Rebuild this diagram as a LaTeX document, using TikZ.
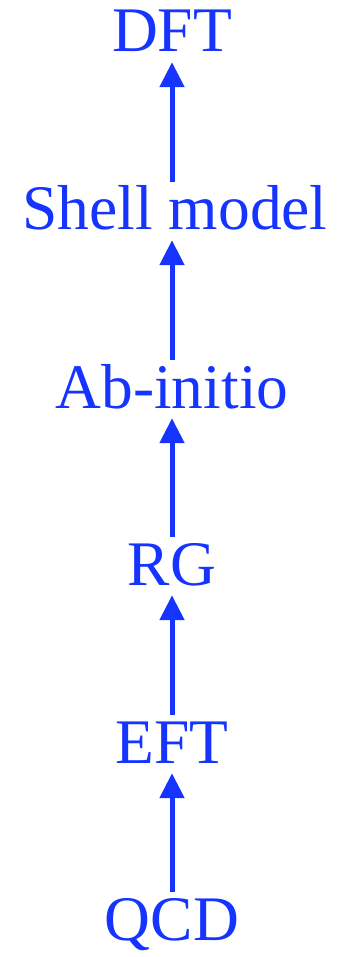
\documentclass[tikz,border=0pt]{standalone}
\usepackage{fontspec}
\setmainfont{Liberation Serif}
\usepackage{tikz}
\usetikzlibrary{arrows.meta}
\definecolor{lblue}{RGB}{22,52,255}
\tikzset{
  lvl/.style={anchor=base, inner sep=0pt, text height=42pt, text depth=0pt, text=lblue, font=\fontsize{63.5}{70}\selectfont},
  up/.style={draw=lblue, line width=5pt, -{Triangle[length=25pt,width=24pt]}, shorten <=6pt, shorten >=10pt}
}
\begin{document}
\begin{tikzpicture}
    [x=1pt,y=1pt]
    \useasboundingbox (0,0) rectangle (337,-957);
    \node[lvl] (dft) at (172,-52) {DFT};
    \node[lvl] (shell) at (175,-230) {Shell model};
    \node[lvl] (abin) at (172,-408) {Ab-initio};
    \node[lvl] (rg) at (172,-585) {RG};
    \node[lvl] (eft) at (172,-763) {EFT};
    \node[lvl] (qcd) at (172,-940) {QCD};
    \draw[up] (qcd.north) -- (eft.south);
    \draw[up] (eft.north) -- (rg.south);
    \draw[up] (rg.north) -- (abin.south);
    \draw[up] (abin.north) -- (172,-230 |- shell.south);
    \draw[up] (172,-230 |- shell.north) -- (dft.south);
\end{tikzpicture}
\end{document}
